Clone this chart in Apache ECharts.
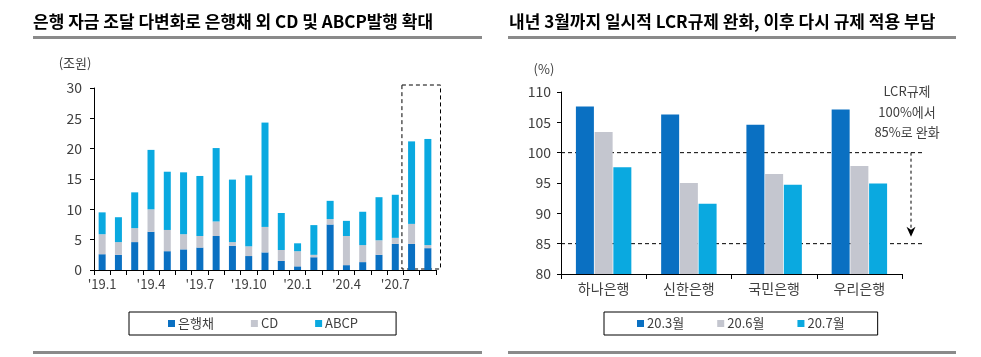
<!DOCTYPE html>
<html>
<head>
<meta charset="utf-8">
<script src="https://cdn.jsdelivr.net/npm/echarts@6/dist/echarts.min.js"></script>
<style>
html,body{margin:0;padding:0;background:#fff;}
#c{width:981px;height:357px;}
</style>
</head>
<body>
<div id="c"></div>
<script>
// ---- Left chart data (조원) ----
const months = ["'19.1","'19.2","'19.3","'19.4","'19.5","'19.6","'19.7","'19.8","'19.9","'19.10","'19.11","'19.12",
                "'20.1","'20.2","'20.3","'20.4","'20.5","'20.6","'20.7","'20.8","'20.9"];
const bankBond = [2.6,2.5,4.6,6.3,3.1,3.4,3.7,5.6,4.0,2.3,2.9,1.5,0.6,2.1,7.5,0.8,1.3,2.5,4.3,4.3,3.6];
const cd       = [3.3,2.1,2.3,3.7,3.5,2.5,1.9,2.4,0.6,1.6,4.2,1.8,2.5,0.4,0.9,4.8,2.8,2.4,1.0,3.3,0.5];
const abcp     = [3.6,4.1,5.9,9.8,9.6,10.2,9.9,12.1,10.3,11.7,17.2,6.1,1.3,4.9,3.0,2.5,5.5,7.1,7.1,13.6,17.5];
const leftTicks = [0,5,10,15,20,25,30];

// ---- Right chart data (%) ----
const banks = ['하나은행','신한은행','국민은행','우리은행'];
const lcrMar = [107.6,106.3,104.6,107.1];
const lcrJun = [103.4,95.0,96.5,97.8];
const lcrJul = [97.6,91.6,94.7,94.9];
const rightTicks = [80,85,90,95,100,105,110];
const ruleOld = 100;
const ruleNew = 85;

const FONT = '"Noto Sans CJK KR", "Noto Sans", sans-serif';
const C1 = '#0A70C2', C2 = '#C4C6CF', C3 = '#0AA9E0';
const TXT = '#404040';

const chart = echarts.init(document.getElementById('c'), null, {renderer:'canvas'});

const axisLabelStyle = {color: TXT, fontFamily: FONT, fontSize: 13};

const option = {
  animation: false,
  backgroundColor: '#fff',
  textStyle: {fontFamily: FONT},
  grid: [
    {left: 94, top: 88, right: 545, bottom: 87, containLabel: false},
    {left: 561, top: 92, right: 79, bottom: 83, containLabel: false}
  ],
  legend: [
    {
      data: ['은행채','CD','ABCP'],
      left: 129, top: 312,
      itemWidth: 7, itemHeight: 7, itemGap: 37,
      icon: 'rect',
      borderColor: '#000', borderWidth: 1,
      padding: [5, 38, 5, 39],
      textStyle: {fontFamily: FONT, fontSize: 13, color: TXT, padding: [0,0,0,-2]}
    },
    {
      data: ['20.3월','20.6월','20.7월'],
      left: 604, top: 312,
      itemWidth: 7, itemHeight: 7, itemGap: 33,
      icon: 'rect',
      borderColor: '#000', borderWidth: 1,
      padding: [5, 33, 5, 33],
      textStyle: {fontFamily: FONT, fontSize: 13, color: TXT, padding: [0,0,0,-2]}
    }
  ],
  xAxis: [
    {
      gridIndex: 0, type: 'category', data: months,
      axisLine: {lineStyle: {color: '#000', width: 1}},
      axisTick: {show: true, interval: 0, length: 5, lineStyle: {color: '#000'}},
      axisLabel: Object.assign({interval: 2, margin: 8}, axisLabelStyle)
    },
    {
      gridIndex: 1, type: 'category', data: banks,
      axisLine: {lineStyle: {color: '#000', width: 1}},
      axisTick: {show: true, interval: 0, length: 5, lineStyle: {color: '#000'}},
      axisLabel: Object.assign({margin: 8}, axisLabelStyle, {fontSize: 14})
    }
  ],
  yAxis: [
    {
      gridIndex: 0, type: 'value', min: leftTicks[0], max: leftTicks[leftTicks.length-1], interval: 5,
      axisLine: {show: true, lineStyle: {color: '#000'}},
      axisTick: {show: true, length: 4, lineStyle: {color: '#000'}},
      splitLine: {show: false},
      axisLabel: Object.assign({margin: 12}, axisLabelStyle, {fontSize: 14})
    },
    {
      gridIndex: 1, type: 'value', min: rightTicks[0], max: rightTicks[rightTicks.length-1], interval: 5,
      axisLine: {show: true, lineStyle: {color: '#000'}},
      axisTick: {show: true, length: 4, lineStyle: {color: '#000'}},
      splitLine: {show: false},
      axisLabel: Object.assign({margin: 10}, axisLabelStyle, {fontSize: 14})
    }
  ],
  series: [
    {name: '은행채', type: 'bar', stack: 'L', xAxisIndex: 0, yAxisIndex: 0, data: bankBond, barWidth: 7, itemStyle: {color: C1}},
    {name: 'CD', type: 'bar', stack: 'L', xAxisIndex: 0, yAxisIndex: 0, data: cd, barWidth: 7, itemStyle: {color: C2}},
    {name: 'ABCP', type: 'bar', stack: 'L', xAxisIndex: 0, yAxisIndex: 0, data: abcp, barWidth: 7, itemStyle: {color: C3}},
    {name: '20.3월', type: 'bar', xAxisIndex: 1, yAxisIndex: 1, data: lcrMar, barWidth: 18, barGap: '4%', itemStyle: {color: C1}},
    {name: '20.6월', type: 'bar', xAxisIndex: 1, yAxisIndex: 1, data: lcrJun, barWidth: 18, barGap: '4%', itemStyle: {color: C2}},
    {name: '20.7월', type: 'bar', xAxisIndex: 1, yAxisIndex: 1, data: lcrJul, barWidth: 18, barGap: '4%', itemStyle: {color: C3}}
  ]
};
chart.setOption(option);

// ---- annotations computed from the axes ----
const px = (xi, v) => chart.convertToPixel({xAxisIndex: xi}, v);
const py = (yi, v) => chart.convertToPixel({yAxisIndex: yi}, v);

const c20 = px(0, months[19]), c21 = px(0, months[20]);
const half = (c21 - c20) / 2;
const boxX1 = c20 - half - 1.5, boxX2 = c21 + half + 4.5;
const boxY1 = py(0, 30) - 3, boxY2 = py(0, 0) - 1;

const rGridLeft = 561, rGridRight = 981 - 79;
const yOld = py(1, ruleOld), yNew = py(1, ruleNew);
const lineEnd = rGridRight + 21;
const arrowX = rGridRight + 9;
const tipY = yNew - 7;

const dash = {stroke: '#000', lineWidth: 1, lineDash: [4, 3]};

chart.setOption({
  graphic: [
    // titles
    {type: 'text', x: 33, y: 22, style: {text: '은행 자금 조달 다변화로 은행채 외 CD 및 ABCP발행 확대', font: 'bold 17px ' + FONT, fill: '#000', verticalAlign: 'middle'}},
    {type: 'text', x: 509, y: 22, style: {text: '내년 3월까지 일시적 LCR규제 완화, 이후 다시 규제 적용 부담', font: 'bold 17px ' + FONT, fill: '#000', verticalAlign: 'middle'}},
    // separators
    {type: 'rect', shape: {x: 33, y: 36, width: 449, height: 3}, style: {fill: '#8a8a8a'}},
    {type: 'rect', shape: {x: 508, y: 36, width: 448, height: 3}, style: {fill: '#8a8a8a'}},
    {type: 'rect', shape: {x: 33, y: 351, width: 449, height: 3}, style: {fill: '#8a8a8a'}},
    {type: 'rect', shape: {x: 508, y: 351, width: 448, height: 3}, style: {fill: '#8a8a8a'}},
    // unit labels
    {type: 'text', x: 75, y: 63, style: {text: '(조원)', font: '13px ' + FONT, fill: TXT, align: 'center', verticalAlign: 'middle'}},
    {type: 'text', x: 544, y: 69, style: {text: '(%)', font: '13px ' + FONT, fill: TXT, align: 'center', verticalAlign: 'middle'}},
    // dashed box (left)
    {type: 'rect', shape: {x: boxX1, y: boxY1, width: boxX2 - boxX1, height: boxY2 - boxY1}, style: {fill: 'none', stroke: '#000', lineWidth: 1, lineDash: [4, 3]}},
    // dashed rule lines (right)
    {type: 'line', shape: {x1: rGridLeft, y1: yOld, x2: lineEnd, y2: yOld}, style: dash},
    {type: 'line', shape: {x1: rGridLeft, y1: yNew, x2: lineEnd, y2: yNew}, style: dash},
    // arrow
    {type: 'line', shape: {x1: arrowX, y1: yOld, x2: arrowX, y2: tipY - 6}, style: {stroke: '#000', lineWidth: 1, lineDash: [3, 3]}},
    {type: 'polygon', shape: {points: [[arrowX - 4.5, tipY - 10], [arrowX, tipY], [arrowX + 4.5, tipY - 10], [arrowX, tipY - 7]]}, style: {fill: '#000'}},
    // annotation text (centered)
    {type: 'text', x: 907, y: 91, style: {text: 'LCR규제', font: '13px ' + FONT, fill: TXT, align: 'center', verticalAlign: 'middle'}},
    {type: 'text', x: 907, y: 112, style: {text: '100%에서', font: '13px ' + FONT, fill: TXT, align: 'center', verticalAlign: 'middle'}},
    {type: 'text', x: 907, y: 132, style: {text: '85%로 완화', font: '13px ' + FONT, fill: TXT, align: 'center', verticalAlign: 'middle'}}
  ]
});
</script>
</body>
</html>
